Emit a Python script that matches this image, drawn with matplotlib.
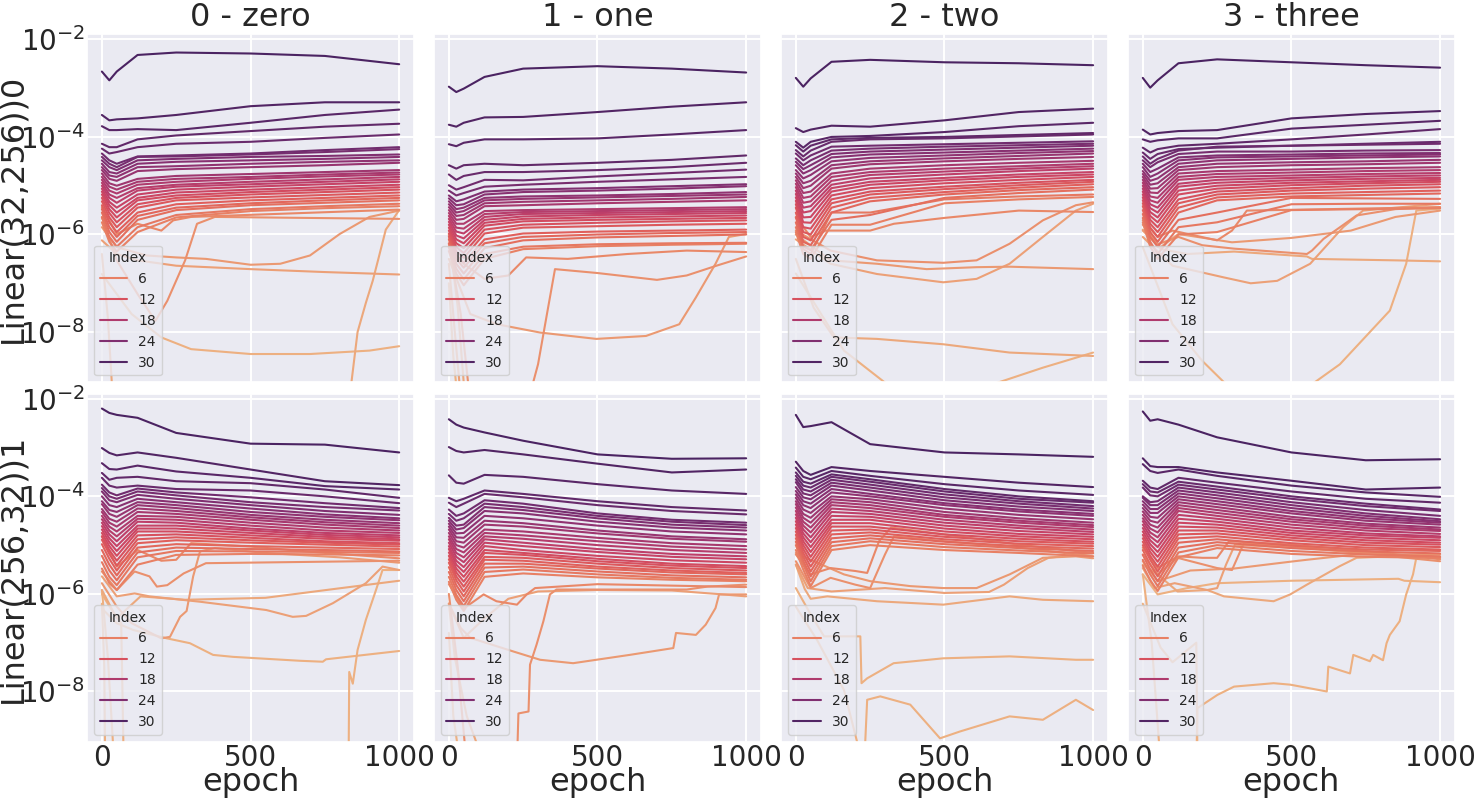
import numpy as np
import matplotlib
matplotlib.use("Agg")
import matplotlib.pyplot as plt
import seaborn as sns
from matplotlib.lines import Line2D
from matplotlib.ticker import FixedLocator, NullLocator, LogFormatterSciNotation

sns.set_theme(style="darkgrid")
plt.rcParams['font.family'] = ['DejaVu Sans']

titles = ["0 - zero", "1 - one", "2 - two", "3 - three"]
row_labels = ["Linear(32,256))0", "Linear(256,32))1"]
legend_idx = [6, 12, 18, 24, 30]
x_ticks = [0, 500, 1000]
y_ticks = [1e-2, 1e-4, 1e-6, 1e-8]

# common epoch grid for the dense band of lines (log10 values, index 31 down to 6)
G = [0, 25, 50, 120, 250, 500, 750, 1000]

# ---------------- row 0 : Linear(32,256))0 ----------------
p00_bulk = [
    [-2.66, -2.84, -2.66, -2.32, -2.27, -2.29, -2.34, -2.51],
    [-3.55, -3.66, -3.64, -3.62, -3.55, -3.37, -3.29, -3.29],
    [-3.78, -3.86, -3.86, -3.84, -3.86, -3.71, -3.55, -3.44],
    [-4.14, -4.21, -4.21, -4.05, -3.97, -3.88, -3.79, -3.73],
    [-4.24, -4.34, -4.31, -4.21, -4.14, -4.10, -4.02, -3.95],
    [-4.34, -4.48, -4.55, -4.40, -4.38, -4.34, -4.27, -4.21],
    [-4.41, -4.55, -4.62, -4.41, -4.40, -4.36, -4.31, -4.25],
    [-4.48, -4.62, -4.68, -4.48, -4.45, -4.41, -4.39, -4.36],
    [-4.55, -4.72, -4.75, -4.55, -4.51, -4.48, -4.45, -4.41],
    [-4.62, -4.79, -4.82, -4.62, -4.60, -4.55, -4.51, -4.48],
    [-4.68, -4.86, -4.90, -4.70, -4.66, -4.62, -4.58, -4.53],
    [-4.75, -4.95, -5.00, -4.86, -4.80, -4.76, -4.72, -4.68],
    [-4.82, -5.02, -5.08, -4.92, -4.86, -4.82, -4.77, -4.73],
    [-4.88, -5.10, -5.16, -4.98, -4.92, -4.86, -4.81, -4.77],
    [-4.94, -5.18, -5.25, -5.05, -4.98, -4.92, -4.87, -4.82],
    [-5.00, -5.25, -5.35, -5.10, -5.02, -4.97, -4.92, -4.87],
    [-5.06, -5.33, -5.45, -5.18, -5.08, -5.02, -4.97, -4.92],
    [-5.12, -5.40, -5.55, -5.25, -5.14, -5.08, -5.03, -4.98],
    [-5.18, -5.48, -5.65, -5.30, -5.20, -5.13, -5.08, -5.03],
    [-5.25, -5.56, -5.75, -5.38, -5.25, -5.18, -5.13, -5.08],
    [-5.32, -5.65, -5.85, -5.45, -5.30, -5.24, -5.19, -5.14],
    [-5.40, -5.75, -5.95, -5.55, -5.38, -5.30, -5.25, -5.20],
    [-5.48, -5.85, -6.05, -5.62, -5.45, -5.36, -5.30, -5.25],
    [-5.55, -5.95, -6.15, -5.70, -5.50, -5.40, -5.35, -5.30],
    [-5.65, -6.05, -6.25, -5.85, -5.60, -5.48, -5.42, -5.37],
    [-5.75, -6.15, -6.35, -5.95, -5.65, -5.52, -5.46, -5.42],
]
p00_low = [
    ([0, 50, 120, 200, 240, 300, 1000], [-5.44, -5.99, -5.78, -5.92, -5.71, -5.64, -5.49]),
    ([0, 50, 120, 180, 220, 280, 320, 380, 1000], [-5.64, -6.53, -7.22, -7.77, -7.36, -6.53, -5.78, -5.64, -5.68]),
    ([0, 50, 150, 250, 350, 500, 600, 700, 800, 900, 1000], [-5.85, -6.26, -6.43, -6.47, -6.50, -6.62, -6.60, -6.43, -5.99, -5.64, -5.51]),
    ([0, 50, 120, 250, 500, 750, 1000], [-6.12, -6.40, -6.53, -6.64, -6.71, -6.77, -6.82]),
    ([0, 20, 40, 830, 838, 860, 888, 911, 930, 955, 1000], [-6.4, -7.7, -9.7, -9.7, -9.1, -8.0, -7.4, -6.95, -6.5, -5.9, -5.5]),
    ([0, 100, 200, 300, 500, 700, 900, 1000], [-6.81, -7.63, -8.11, -8.35, -8.45, -8.45, -8.38, -8.29]),
]

p01_bulk = [
    [-2.97, -3.08, -3.01, -2.77, -2.60, -2.55, -2.60, -2.68],
    [-3.75, -3.79, -3.71, -3.60, -3.59, -3.49, -3.38, -3.29],
    [-4.15, -4.19, -4.12, -4.05, -4.05, -4.03, -3.95, -3.86],
    [-4.58, -4.65, -4.58, -4.55, -4.58, -4.53, -4.47, -4.38],
    [-4.77, -4.88, -4.80, -4.72, -4.72, -4.68, -4.62, -4.53],
    [-4.99, -5.08, -5.03, -4.88, -4.89, -4.81, -4.74, -4.67],
    [-5.10, -5.20, -5.15, -5.02, -4.98, -4.92, -4.87, -4.82],
    [-5.20, -5.32, -5.28, -5.12, -5.08, -5.05, -5.01, -4.97],
    [-5.26, -5.40, -5.38, -5.18, -5.13, -5.10, -5.06, -5.01],
    [-5.32, -5.48, -5.45, -5.25, -5.22, -5.20, -5.17, -5.13],
    [-5.38, -5.55, -5.52, -5.30, -5.27, -5.24, -5.21, -5.18],
    [-5.44, -5.62, -5.60, -5.36, -5.33, -5.30, -5.27, -5.23],
    [-5.50, -5.70, -5.68, -5.42, -5.40, -5.36, -5.33, -5.30],
    [-5.56, -5.78, -5.78, -5.52, -5.50, -5.48, -5.46, -5.44],
    [-5.62, -5.86, -5.88, -5.58, -5.54, -5.52, -5.50, -5.48],
    [-5.68, -5.94, -5.98, -5.64, -5.58, -5.56, -5.54, -5.52],
    [-5.74, -6.02, -6.08, -5.70, -5.63, -5.60, -5.58, -5.56],
    [-5.80, -6.10, -6.18, -5.76, -5.68, -5.65, -5.63, -5.61],
    [-5.86, -6.18, -6.28, -5.82, -5.73, -5.70, -5.68, -5.66],
    [-5.92, -6.26, -6.38, -5.90, -5.80, -5.76, -5.73, -5.71],
    [-5.98, -6.34, -6.48, -5.98, -5.86, -5.83, -5.80, -5.78],
    [-6.04, -6.42, -6.58, -6.10, -5.98, -5.94, -5.92, -5.90],
    [-6.10, -6.50, -6.68, -6.18, -6.05, -6.00, -5.97, -5.95],
    [-6.18, -6.60, -6.80, -6.28, -6.12, -6.06, -6.03, -6.00],
    [-6.26, -6.70, -6.92, -6.40, -6.25, -6.20, -6.18, -6.17],
    [-6.34, -6.80, -7.04, -6.50, -6.30, -6.24, -6.21, -6.19],
]
p01_low = [
    ([0, 50, 120, 200, 260, 400, 600, 800, 1000], [-6.26, -6.60, -6.91, -6.84, -6.47, -6.50, -6.40, -6.33, -6.36]),
    ([0, 40, 70, 270, 300, 330, 357, 500, 700, 800, 900, 1000], [-6.19, -7.63, -9.34, -9.34, -8.66, -7.63, -6.71, -6.79, -6.93, -6.84, -6.64, -6.45]),
    ([0, 72, 162, 307, 496, 663, 775, 831, 897, 942, 1000], [-6.5, -7.63, -7.84, -8.01, -8.14, -8.08, -7.84, -7.29, -6.60, -6.05, -5.99]),
    ([0, 20, 50, 1000], [-6.6, -8.0, -10.0, -10.0]),
    ([0, 30, 60, 1000], [-6.0, -7.5, -9.8, -10.5]),
    ([0, 15, 40, 1000], [-7.0, -8.5, -10.0, -11.0]),
]

p02_bulk = [
    [-2.79, -2.97, -2.80, -2.46, -2.42, -2.47, -2.49, -2.53],
    [-3.82, -3.90, -3.85, -3.77, -3.79, -3.66, -3.49, -3.42],
    [-4.10, -4.22, -4.10, -4.00, -3.98, -3.90, -3.78, -3.71],
    [-4.17, -4.30, -4.18, -4.05, -4.02, -4.00, -3.96, -3.92],
    [-4.27, -4.40, -4.28, -4.10, -4.05, -4.03, -3.99, -3.95],
    [-4.34, -4.48, -4.38, -4.20, -4.18, -4.15, -4.12, -4.09],
    [-4.44, -4.58, -4.48, -4.28, -4.24, -4.20, -4.17, -4.14],
    [-4.51, -4.66, -4.58, -4.35, -4.30, -4.26, -4.22, -4.18],
    [-4.58, -4.75, -4.68, -4.42, -4.36, -4.32, -4.28, -4.24],
    [-4.68, -4.85, -4.78, -4.50, -4.43, -4.38, -4.33, -4.29],
    [-4.75, -4.95, -4.90, -4.58, -4.50, -4.44, -4.39, -4.34],
    [-4.82, -5.05, -5.00, -4.65, -4.56, -4.50, -4.45, -4.41],
    [-4.89, -5.15, -5.12, -4.75, -4.65, -4.58, -4.53, -4.49],
    [-4.96, -5.25, -5.22, -4.82, -4.72, -4.65, -4.60, -4.55],
    [-5.03, -5.35, -5.32, -4.90, -4.78, -4.71, -4.65, -4.60],
    [-5.10, -5.45, -5.42, -4.98, -4.85, -4.77, -4.70, -4.65],
    [-5.17, -5.55, -5.52, -5.05, -4.92, -4.84, -4.77, -4.72],
    [-5.24, -5.65, -5.64, -5.12, -4.98, -4.89, -4.82, -4.77],
    [-5.31, -5.75, -5.76, -5.20, -5.05, -4.95, -4.88, -4.82],
    [-5.38, -5.85, -5.88, -5.28, -5.12, -5.02, -4.94, -4.88],
    [-5.45, -5.95, -6.00, -5.36, -5.18, -5.07, -4.99, -4.92],
    [-5.55, -6.05, -6.12, -5.45, -5.25, -5.13, -5.04, -4.97],
    [-5.65, -6.15, -6.22, -5.55, -5.32, -5.18, -5.09, -5.03],
    [-5.75, -6.25, -6.32, -5.70, -5.60, -5.25, -5.15, -5.08],
    [-5.85, -6.30, -6.40, -5.55, -5.55, -5.28, -5.22, -5.18],
    [-5.95, -6.40, -6.50, -5.80, -5.80, -5.36, -5.28, -5.23],
]
p02_low = [
    ([0, 50, 100, 150, 250, 330, 500, 750, 1000], [-5.64, -6.05, -5.92, -5.92, -5.92, -5.78, -5.66, -5.51, -5.54]),
    ([0, 117, 273, 496, 608, 719, 831, 942, 1000], [-5.92, -6.33, -6.53, -6.58, -6.53, -6.19, -5.71, -5.40, -5.34]),
    ([0, 117, 273, 440, 608, 719, 1000], [-6.0, -6.53, -6.60, -6.71, -6.67, -6.66, -6.71]),
    ([0, 117, 273, 496, 608, 719, 831, 942, 1000], [-6.1, -6.60, -6.81, -6.98, -6.91, -6.60, -6.05, -5.51, -5.37]),
    ([0, 60, 128, 273, 496, 719, 1000], [-6.5, -7.5, -8.11, -8.14, -8.25, -8.42, -8.49]),
    ([0, 162, 307, 400, 550, 663, 831, 1000], [-6.8, -8.38, -9.07, -9.3, -9.3, -9.07, -8.73, -8.42]),
]

p03_bulk = [
    [-2.79, -2.99, -2.84, -2.49, -2.41, -2.47, -2.53, -2.58],
    [-3.85, -3.95, -3.92, -3.88, -3.86, -3.62, -3.53, -3.47],
    [-4.05, -4.10, -4.07, -4.03, -4.03, -3.83, -3.75, -3.67],
    [-4.22, -4.32, -4.25, -4.18, -4.14, -4.05, -3.95, -3.84],
    [-4.32, -4.45, -4.35, -4.25, -4.22, -4.18, -4.14, -4.10],
    [-4.40, -4.55, -4.45, -4.28, -4.20, -4.18, -4.16, -4.14],
    [-4.48, -4.62, -4.52, -4.35, -4.30, -4.30, -4.28, -4.27],
    [-4.55, -4.72, -4.65, -4.42, -4.38, -4.36, -4.34, -4.33],
    [-4.62, -4.82, -4.75, -4.48, -4.42, -4.40, -4.38, -4.36],
    [-4.70, -4.90, -4.85, -4.55, -4.48, -4.45, -4.42, -4.40],
    [-4.76, -4.98, -4.95, -4.62, -4.55, -4.52, -4.50, -4.47],
    [-4.82, -5.06, -5.05, -4.68, -4.62, -4.58, -4.56, -4.53],
    [-4.88, -5.14, -5.15, -4.75, -4.70, -4.67, -4.64, -4.62],
    [-4.94, -5.22, -5.25, -4.82, -4.76, -4.73, -4.70, -4.68],
    [-5.00, -5.30, -5.35, -4.88, -4.82, -4.79, -4.76, -4.74],
    [-5.06, -5.38, -5.45, -4.96, -4.88, -4.84, -4.81, -4.79],
    [-5.12, -5.46, -5.55, -5.02, -4.94, -4.89, -4.86, -4.84],
    [-5.18, -5.54, -5.65, -5.10, -5.00, -4.94, -4.91, -4.88],
    [-5.24, -5.62, -5.75, -5.18, -5.06, -4.99, -4.95, -4.92],
    [-5.30, -5.70, -5.85, -5.28, -5.12, -5.05, -5.00, -4.97],
    [-5.36, -5.78, -5.95, -5.36, -5.18, -5.10, -5.06, -5.03],
    [-5.42, -5.86, -6.05, -5.45, -5.24, -5.16, -5.13, -5.10],
    [-5.50, -5.95, -6.15, -5.55, -5.30, -5.22, -5.19, -5.16],
    [-5.58, -6.05, -6.25, -5.70, -5.55, -5.25, -5.26, -5.27],
    [-5.66, -6.15, -6.40, -5.85, -5.75, -5.38, -5.37, -5.37],
    [-5.75, -6.25, -6.50, -6.00, -5.95, -5.50, -5.48, -5.46],
]
p03_low = [
    ([0, 50, 100, 250, 300, 350, 1000], [-5.71, -6.05, -5.92, -6.12, -5.92, -5.51, -5.44]),
    ([0, 50, 120, 200, 307, 552, 569, 608, 719, 850, 1000], [-5.8, -6.2, -6.05, -6.22, -6.29, -6.40, -6.33, -6.09, -5.61, -5.48, -5.44]),
    ([0, 60, 120, 300, 500, 700, 850, 1000], [-5.92, -6.26, -5.99, -6.16, -6.07, -5.92, -5.64, -5.51]),
    ([0, 100, 273, 363, 452, 563, 674, 741, 1000], [-6.05, -6.64, -6.88, -7.0, -6.95, -6.60, -5.85, -5.51, -5.37]),
    ([0, 60, 150, 307, 552, 569, 850, 1000], [-5.9, -6.3, -6.4, -6.35, -6.45, -6.50, -6.53, -6.55]),
    ([0, 100, 200, 280, 450, 569, 663, 831, 886, 920, 1000], [-6.26, -7.84, -8.59, -9.07, -9.34, -9.07, -8.66, -7.56, -6.60, -5.51, -5.47]),
]

# ---------------- row 1 : Linear(256,32))1 ----------------
p10_bulk = [
    [-2.20, -2.29, -2.33, -2.39, -2.70, -2.92, -2.94, -3.10],
    [-3.01, -3.11, -3.16, -3.10, -3.21, -3.45, -3.69, -3.77],
    [-3.32, -3.44, -3.45, -3.37, -3.49, -3.62, -3.79, -3.86],
    [-3.52, -3.66, -3.62, -3.60, -3.69, -3.73, -3.86, -4.03],
    [-3.62, -3.78, -3.82, -3.78, -3.85, -3.88, -4.00, -4.14],
    [-3.76, -3.92, -3.98, -3.84, -3.92, -4.02, -4.14, -4.24],
    [-3.83, -4.00, -4.05, -3.90, -3.98, -4.12, -4.22, -4.29],
    [-3.90, -4.08, -4.12, -3.97, -4.05, -4.18, -4.30, -4.38],
    [-4.00, -4.18, -4.22, -4.05, -4.12, -4.25, -4.37, -4.45],
    [-4.10, -4.28, -4.32, -4.12, -4.18, -4.32, -4.42, -4.49],
    [-4.16, -4.36, -4.42, -4.18, -4.24, -4.38, -4.48, -4.55],
    [-4.26, -4.46, -4.52, -4.25, -4.30, -4.43, -4.53, -4.60],
    [-4.32, -4.54, -4.62, -4.32, -4.36, -4.48, -4.58, -4.65],
    [-4.40, -4.62, -4.72, -4.40, -4.42, -4.54, -4.64, -4.70],
    [-4.47, -4.70, -4.82, -4.46, -4.48, -4.60, -4.70, -4.75],
    [-4.54, -4.78, -4.92, -4.52, -4.54, -4.66, -4.75, -4.80],
    [-4.61, -4.86, -5.02, -4.60, -4.60, -4.70, -4.79, -4.84],
    [-4.68, -4.94, -5.12, -4.66, -4.66, -4.75, -4.83, -4.88],
    [-4.75, -5.02, -5.22, -4.72, -4.72, -4.80, -4.87, -4.91],
    [-4.82, -5.10, -5.32, -4.80, -4.78, -4.85, -4.92, -4.96],
    [-4.89, -5.18, -5.42, -4.88, -4.84, -4.90, -4.95, -4.99],
    [-4.98, -5.28, -5.52, -4.96, -4.90, -4.95, -4.99, -5.03],
    [-5.10, -5.40, -5.62, -5.05, -4.98, -5.02, -5.05, -5.08],
    [-5.22, -5.52, -5.72, -5.15, -5.05, -5.08, -5.10, -5.13],
    [-5.35, -5.65, -5.82, -5.25, -5.12, -5.13, -5.14, -5.16],
    [-5.48, -5.78, -5.92, -5.40, -5.20, -5.18, -5.19, -5.21],
]
p10_low = [
    ([0, 50, 120, 200, 250, 300, 500, 750, 1000], [-4.82, -5.44, -5.10, -5.32, -5.30, -4.96, -5.03, -5.16, -5.27]),
    ([0, 50, 110, 160, 185, 220, 275, 350, 1000], [-5.54, -5.92, -5.54, -5.64, -5.85, -5.82, -5.58, -5.37, -5.32]),
    ([0, 50, 100, 200, 229, 263, 285, 307, 330, 380, 550, 800, 1000], [-5.78, -6.26, -6.60, -6.91, -6.88, -6.47, -6.35, -5.64, -5.13, -5.06, -5.16, -5.25, -5.36]),
    ([0, 50, 110, 160, 330, 553, 642, 687, 777, 888, 944, 1000], [-5.64, -6.05, -5.99, -6.05, -6.16, -6.33, -6.47, -6.45, -6.19, -5.78, -5.44, -5.51]),
    ([0, 50, 130, 280, 550, 780, 1000], [-5.92, -6.5, -6.05, -6.12, -6.08, -5.90, -5.73]),
    ([0, 20, 40, 830, 832, 844, 860, 888, 922, 944, 1000], [-5.92, -7.29, -9.34, -9.34, -7.60, -7.84, -7.15, -6.53, -5.92, -5.51, -5.51]),
    ([0, 50, 106, 218, 296, 374, 441, 665, 743, 754, 1000], [-6.3, -6.6, -6.74, -6.91, -7.01, -7.25, -7.29, -7.37, -7.39, -7.34, -7.17]),
    ([0, 8, 12, 1000], [-6.2, -7.5, -10.0, -10.0]),
    ([0, 40, 65, 75, 1000], [-6.0, -6.4, -6.6, -10.0, -10.0]),
]

p11_bulk = [
    [-2.42, -2.53, -2.59, -2.69, -2.86, -3.14, -3.23, -3.22],
    [-2.99, -3.07, -3.10, -3.05, -3.14, -3.33, -3.51, -3.45],
    [-3.57, -3.72, -3.74, -3.56, -3.60, -3.75, -3.88, -3.95],
    [-4.03, -4.10, -4.05, -3.88, -3.95, -4.10, -4.22, -4.29],
    [-4.13, -4.22, -4.15, -3.95, -4.02, -4.18, -4.30, -4.37],
    [-4.27, -4.40, -4.35, -4.08, -4.15, -4.35, -4.48, -4.54],
    [-4.36, -4.50, -4.45, -4.15, -4.22, -4.40, -4.52, -4.59],
    [-4.44, -4.60, -4.58, -4.22, -4.28, -4.45, -4.58, -4.64],
    [-4.50, -4.68, -4.65, -4.30, -4.35, -4.52, -4.64, -4.70],
    [-4.56, -4.76, -4.75, -4.40, -4.45, -4.60, -4.72, -4.78],
    [-4.62, -4.84, -4.85, -4.50, -4.55, -4.70, -4.82, -4.88],
    [-4.68, -4.92, -4.95, -4.58, -4.62, -4.76, -4.87, -4.93],
    [-4.75, -5.00, -5.05, -4.68, -4.72, -4.85, -4.96, -5.02],
    [-4.82, -5.08, -5.15, -4.75, -4.80, -4.92, -5.03, -5.09],
    [-4.88, -5.16, -5.25, -4.82, -4.87, -5.00, -5.10, -5.16],
    [-4.95, -5.24, -5.35, -4.88, -4.95, -5.08, -5.18, -5.23],
    [-5.02, -5.32, -5.45, -4.95, -5.02, -5.14, -5.24, -5.29],
    [-5.08, -5.40, -5.55, -5.02, -5.10, -5.22, -5.31, -5.36],
    [-5.15, -5.48, -5.65, -5.10, -5.16, -5.28, -5.38, -5.43],
    [-5.22, -5.56, -5.75, -5.16, -5.20, -5.33, -5.42, -5.47],
    [-5.29, -5.64, -5.85, -5.24, -5.26, -5.38, -5.47, -5.52],
    [-5.36, -5.72, -5.95, -5.30, -5.32, -5.44, -5.52, -5.57],
    [-5.45, -5.82, -6.05, -5.38, -5.38, -5.48, -5.56, -5.60],
    [-5.55, -5.92, -6.15, -5.46, -5.44, -5.54, -5.62, -5.66],
    [-5.65, -6.02, -6.25, -5.55, -5.50, -5.60, -5.67, -5.71],
    [-5.75, -6.12, -6.35, -5.65, -5.58, -5.66, -5.71, -5.74],
]
p11_low = [
    ([0, 50, 117, 160, 229, 262, 290, 500, 1000], [-5.8, -6.3, -6.01, -6.15, -6.22, -6.01, -5.88, -5.80, -5.86]),
    ([0, 30, 60, 229, 234, 268, 273, 295, 318, 340, 362, 800, 870, 1000], [-6.0, -7.5, -9.5, -9.5, -8.45, -8.41, -7.45, -7.04, -6.56, -6.01, -5.91, -5.91, -5.85, -5.81]),
    ([0, 40, 72, 217, 307, 418, 496, 608, 755, 764, 831, 864, 897, 909, 1000], [-6.2, -6.7, -6.90, -7.18, -7.35, -7.42, -7.35, -7.25, -7.11, -6.80, -6.84, -6.63, -6.29, -6.01, -6.01]),
    ([0, 50, 120, 200, 300, 500, 750, 900, 1000], [-6.2, -6.9, -6.5, -6.1, -5.95, -5.92, -5.93, -6.0, -6.05]),
    ([0, 20, 60, 120, 1000], [-6.2, -7.3, -8.5, -9.5, -10.0]),
    ([0, 15, 50, 1000], [-6.8, -8.5, -10.0, -10.0]),
]

p12_bulk = [
    [-2.33, -2.58, -2.56, -2.48, -2.93, -3.10, -3.14, -3.19],
    [-3.29, -3.48, -3.56, -3.40, -3.48, -3.60, -3.72, -3.81],
    [-3.41, -3.60, -3.65, -3.48, -3.58, -3.75, -3.88, -3.97],
    [-3.51, -3.70, -3.74, -3.55, -3.65, -3.85, -4.00, -4.10],
    [-3.58, -3.78, -3.82, -3.60, -3.70, -3.90, -4.05, -4.13],
    [-3.65, -3.86, -3.90, -3.66, -3.76, -3.96, -4.10, -4.20],
    [-3.71, -3.94, -3.98, -3.72, -3.82, -4.02, -4.15, -4.25],
    [-3.81, -4.02, -4.06, -3.78, -3.88, -4.08, -4.21, -4.30],
    [-3.89, -4.10, -4.15, -3.85, -3.95, -4.14, -4.27, -4.36],
    [-3.96, -4.18, -4.24, -3.92, -4.00, -4.18, -4.31, -4.40],
    [-4.03, -4.27, -4.34, -4.00, -4.06, -4.25, -4.38, -4.47],
    [-4.10, -4.36, -4.44, -4.06, -4.12, -4.32, -4.45, -4.54],
    [-4.16, -4.44, -4.54, -4.12, -4.18, -4.38, -4.50, -4.59],
    [-4.23, -4.52, -4.64, -4.18, -4.24, -4.42, -4.54, -4.63],
    [-4.30, -4.60, -4.74, -4.25, -4.30, -4.48, -4.60, -4.68],
    [-4.37, -4.68, -4.84, -4.32, -4.36, -4.54, -4.65, -4.73],
    [-4.44, -4.76, -4.94, -4.40, -4.42, -4.60, -4.71, -4.78],
    [-4.51, -4.84, -5.04, -4.48, -4.48, -4.66, -4.77, -4.83],
    [-4.58, -4.92, -5.14, -4.55, -4.55, -4.72, -4.82, -4.88],
    [-4.65, -5.00, -5.24, -4.62, -4.62, -4.78, -4.87, -4.93],
    [-4.72, -5.08, -5.34, -4.70, -4.68, -4.83, -4.92, -4.97],
    [-4.79, -5.16, -5.44, -4.78, -4.74, -4.88, -4.97, -5.02],
    [-4.86, -5.24, -5.54, -4.86, -4.80, -4.93, -5.02, -5.07],
    [-4.93, -5.32, -5.64, -4.94, -4.86, -4.98, -5.06, -5.12],
    [-5.00, -5.40, -5.74, -5.02, -4.92, -5.04, -5.11, -5.17],
    [-5.10, -5.50, -5.84, -5.10, -5.00, -5.10, -5.16, -5.23],
]
p12_low = [
    ([0, 50, 117, 200, 240, 280, 320, 500, 750, 1000], [-5.19, -5.60, -5.47, -5.53, -5.57, -4.92, -4.64, -4.78, -4.99, -5.16]),
    ([0, 50, 117, 200, 250, 300, 330, 500, 750, 1000], [-5.33, -5.88, -5.67, -5.81, -5.88, -5.19, -4.82, -4.92, -5.05, -5.23]),
    ([0, 61, 162, 251, 385, 496, 608, 719, 831, 942, 1000], [-5.16, -5.33, -5.60, -5.74, -5.84, -5.88, -5.88, -5.60, -5.26, -5.23, -5.27]),
    ([0, 40, 120, 300, 500, 650, 700, 780, 850, 1000], [-5.40, -5.88, -5.95, -5.88, -5.98, -5.96, -5.81, -5.47, -5.26, -5.16]),
    ([0, 30, 50, 106, 273, 496, 719, 831, 1000], [-5.4, -5.9, -6.1, -6.05, -6.15, -6.22, -6.05, -6.12, -6.15]),
    ([0, 50, 95, 217, 221, 240, 329, 496, 719, 942, 1000], [-5.88, -6.42, -6.87, -6.87, -7.83, -7.73, -7.42, -7.32, -7.28, -7.35, -7.35]),
    ([0, 72, 162, 206, 230, 240, 284, 385, 485, 552, 719, 831, 942, 1000], [-6.26, -6.95, -7.97, -9.03, -9.5, -8.17, -8.10, -8.27, -8.96, -8.82, -8.51, -8.58, -8.17, -8.38]),
]

p13_bulk = [
    [-2.26, -2.45, -2.42, -2.53, -2.79, -3.10, -3.26, -3.24],
    [-3.22, -3.38, -3.40, -3.40, -3.51, -3.68, -3.86, -3.82],
    [-3.34, -3.48, -3.52, -3.45, -3.58, -3.78, -3.92, -4.01],
    [-3.68, -3.82, -3.85, -3.62, -3.72, -3.90, -4.05, -4.13],
    [-3.75, -3.90, -3.92, -3.70, -3.80, -4.00, -4.15, -4.27],
    [-3.82, -3.98, -4.00, -3.76, -3.86, -4.05, -4.20, -4.30],
    [-4.00, -4.12, -4.10, -3.82, -3.92, -4.12, -4.28, -4.40],
    [-4.03, -4.18, -4.18, -3.88, -3.98, -4.18, -4.35, -4.47],
    [-4.10, -4.26, -4.26, -3.94, -4.04, -4.24, -4.40, -4.51],
    [-4.17, -4.34, -4.34, -4.00, -4.10, -4.30, -4.45, -4.54],
    [-4.24, -4.42, -4.44, -4.06, -4.16, -4.35, -4.50, -4.58],
    [-4.31, -4.50, -4.54, -4.12, -4.22, -4.42, -4.56, -4.64],
    [-4.38, -4.58, -4.64, -4.18, -4.28, -4.47, -4.60, -4.68],
    [-4.45, -4.66, -4.74, -4.24, -4.34, -4.52, -4.65, -4.71],
    [-4.51, -4.74, -4.84, -4.30, -4.40, -4.58, -4.70, -4.77],
    [-4.58, -4.82, -4.94, -4.38, -4.46, -4.64, -4.76, -4.82],
    [-4.65, -4.90, -5.04, -4.46, -4.52, -4.70, -4.80, -4.85],
    [-4.72, -4.98, -5.14, -4.54, -4.58, -4.75, -4.85, -4.90],
    [-4.79, -5.06, -5.24, -4.62, -4.64, -4.80, -4.90, -4.95],
    [-4.86, -5.14, -5.34, -4.70, -4.70, -4.85, -4.95, -4.99],
    [-4.93, -5.22, -5.44, -4.78, -4.76, -4.90, -5.00, -5.04],
    [-5.00, -5.30, -5.54, -4.86, -4.82, -4.96, -5.05, -5.09],
    [-5.10, -5.40, -5.64, -4.95, -4.88, -5.01, -5.09, -5.12],
    [-5.20, -5.50, -5.74, -5.05, -4.94, -5.06, -5.13, -5.17],
    [-5.30, -5.60, -5.84, -5.15, -5.00, -5.12, -5.19, -5.23],
    [-5.42, -5.72, -5.94, -5.25, -5.06, -5.18, -5.24, -5.26],
]
p13_low = [
    ([0, 50, 120, 200, 250, 290, 500, 750, 1000], [-5.05, -5.47, -5.23, -5.26, -5.26, -4.92, -4.99, -5.12, -5.29]),
    ([0, 50, 117, 250, 300, 340, 500, 1000], [-5.19, -5.60, -5.26, -5.47, -5.51, -4.96, -5.02, -5.33]),
    ([0, 50, 160, 307, 496, 552, 719, 1000], [-5.33, -5.74, -5.52, -5.48, -5.34, -5.30, -5.19, -5.19]),
    ([0, 40, 107, 217, 250, 280, 310, 500, 1000], [-5.47, -5.88, -5.78, -5.92, -5.88, -5.40, -4.99, -5.05, -5.26]),
    ([0, 50, 117, 217, 273, 440, 496, 552, 663, 719, 1000], [-5.40, -5.60, -5.95, -5.92, -6.05, -6.15, -6.01, -5.81, -5.43, -5.26, -5.19]),
    ([0, 50, 150, 250, 500, 860, 880, 1000], [-5.60, -6.01, -5.88, -5.78, -5.73, -5.69, -5.73, -5.76]),
    ([0, 60, 100, 180, 184, 190, 1000], [-6.2, -7.1, -7.4, -7.0, -9.5, -10.0, -10.0]),
    ([0, 30, 60, 180, 184, 251, 307, 440, 496, 619, 624, 697, 708, 764, 775, 808, 820, 831, 864, 886, 909, 920, 1000],
     [-5.6, -7.0, -9.5, -9.5, -8.34, -8.07, -7.90, -7.83, -7.86, -8.00, -7.49, -7.63, -7.25, -7.38, -7.25, -7.36, -7.01, -6.84, -6.56, -6.01, -5.60, -5.26, -5.24]),
]

panels = [
    [(p00_bulk, p00_low), (p01_bulk, p01_low), (p02_bulk, p02_low), (p03_bulk, p03_low)],
    [(p10_bulk, p10_low), (p11_bulk, p11_low), (p12_bulk, p12_low), (p13_bulk, p13_low)],
]

cmap = sns.color_palette("flare", as_cmap=True)
LW = 1.5

fig, axes = plt.subplots(2, 4, figsize=(14.75, 7.98), dpi=100, sharex=True, sharey=True)
fig.subplots_adjust(left=0.059, right=0.9864, top=0.9568, bottom=0.0705,
                    wspace=0.061, hspace=0.0333)

for r in range(2):
    for c in range(4):
        ax = axes[r, c]
        bulk, low = panels[r][c]
        lines = []
        for k, vals in enumerate(bulk):
            lines.append((31 - k, G, vals))
        for j, (ep, vals) in enumerate(low):
            lines.append((max(0, 5 - j), ep, vals))
        lines.sort(key=lambda t: t[0])
        for idx, ep, vals in lines:
            ax.plot(ep, np.power(10.0, np.array(vals)), color=cmap(idx / 31), lw=LW)
        ax.set_yscale("log")
        ax.set_ylim(10 ** -9.03, 10 ** -1.9)
        ax.set_xlim(-50, 1050)
        ax.yaxis.set_major_locator(FixedLocator(y_ticks))
        ax.yaxis.set_major_formatter(LogFormatterSciNotation())
        ax.yaxis.set_minor_locator(NullLocator())
        ax.xaxis.set_major_locator(FixedLocator(x_ticks))
        ax.grid(True, which="major", color="white", lw=1.4)
        ax.tick_params(axis="both", which="major", length=0, pad=1.5, labelsize=20)
        handles = [Line2D([], [], color=cmap(i / 31), lw=LW) for i in legend_idx]
        ax.legend(handles, [str(i) for i in legend_idx], title="Index", loc="lower left",
                  fontsize=10, title_fontsize=10)
        if r == 0:
            ax.set_title(titles[c], fontsize=23)
        if r == 1:
            ax.set_xlabel("epoch", fontsize=23)
            ax.xaxis.set_label_coords(0.5, -0.073)
        if c == 0:
            ax.set_ylabel(row_labels[r], fontsize=23)
            ax.yaxis.set_label_coords(-0.18, 0.5)

fig.savefig("out.png", dpi=100)
